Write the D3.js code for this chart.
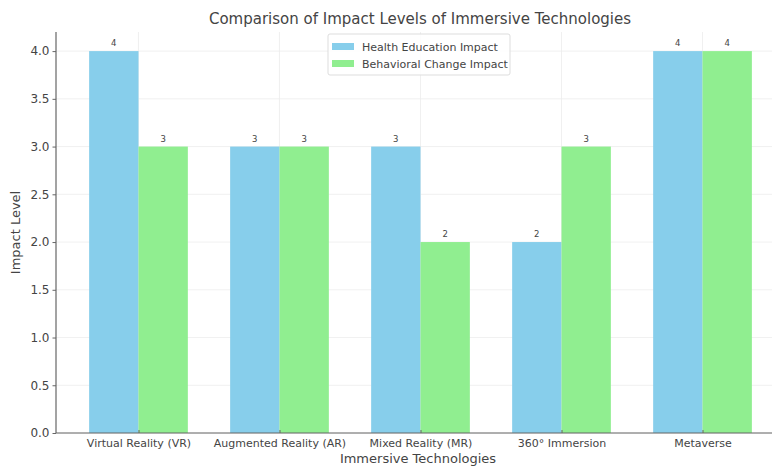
<!DOCTYPE html>
<html>
<head>
<meta charset="utf-8">
<script src="https://cdn.jsdelivr.net/npm/d3@7"></script>
<style>
  body { margin: 0; background: #fff; }
  svg { font-family: "DejaVu Sans", sans-serif; }
</style>
</head>
<body>
<svg id="chart" width="772" height="466"></svg>
<script>
const categories = ["Virtual Reality (VR)", "Augmented Reality (AR)", "Mixed Reality (MR)", "360° Immersion", "Metaverse"];
const healthImpact = [4, 3, 3, 2, 4];
const behaviorImpact = [3, 3, 2, 3, 4];
const seriesNames = ["Health Education Impact", "Behavioral Change Impact"];
const seriesColors = ["#87CEEB", "#90EE90"];
const yTicks = [0, 0.5, 1, 1.5, 2, 2.5, 3, 3.5, 4];

const svg = d3.select("#chart");
const margin = { top: 32, left: 56, bottom: 33 };
const height = 466 - margin.top - margin.bottom;

// index based x scale, like matplotlib with 5% margins
const barW = 0.35;
const x = d3.scaleLinear().domain([-0.585, 4.585]).range([margin.left, margin.left + 729]);
const y = d3.scaleLinear().domain([0, 4.2]).range([margin.top + height, margin.top]);

const g = svg.append("g");

// grid
g.selectAll(".hgrid").data(yTicks).enter().append("line")
  .attr("x1", x(-0.585)).attr("x2", 772)
  .attr("y1", d => y(d)).attr("y2", d => y(d))
  .attr("stroke", "#ececec").attr("stroke-width", 0.8);
g.selectAll(".vgrid").data(categories).enter().append("line")
  .attr("x1", (d, i) => x(i)).attr("x2", (d, i) => x(i))
  .attr("y1", y(0)).attr("y2", y(4.2))
  .attr("stroke", "#ececec").attr("stroke-width", 0.8);

// bars
const series = [healthImpact, behaviorImpact];
series.forEach((vals, s) => {
  const off = s === 0 ? -barW : 0;
  g.selectAll(".bar" + s).data(vals).enter().append("rect")
    .attr("x", (d, i) => x(i + off))
    .attr("width", x(barW) - x(0))
    .attr("y", d => y(d))
    .attr("height", d => y(0) - y(d))
    .attr("fill", seriesColors[s]);
  g.selectAll(".lbl" + s).data(vals).enter().append("text")
    .attr("x", (d, i) => x(i + off + barW / 2))
    .attr("y", d => y(d) - 5)
    .attr("text-anchor", "middle")
    .attr("font-size", 8.5)
    .attr("fill", "#444")
    .text(d => d);
});

// y axis
const yAxis = d3.axisLeft(y).tickValues(yTicks).tickFormat(d3.format(".1f")).tickSize(3.5).tickPadding(3);
const ya = svg.append("g").attr("transform", `translate(${margin.left},0)`).call(yAxis);
ya.select(".domain").attr("stroke", "#666").attr("stroke-width", 1.2).attr("d", `M0,${y(4.2)}V${y(0)}`);
ya.selectAll(".tick line").attr("stroke", "#666");
ya.selectAll("text").attr("font-size", 12).attr("fill", "#444").attr("font-family", "DejaVu Sans");

// x axis
const xAxis = d3.axisBottom(x).tickValues(d3.range(categories.length)).tickFormat(i => categories[i]).tickSize(-3).tickPadding(6);
const xa = svg.append("g").attr("transform", `translate(0,${y(0)})`).call(xAxis);
xa.select(".domain").attr("stroke", "#666").attr("stroke-width", 1.2).attr("d", `M${margin.left},0H772`);
xa.selectAll(".tick line").attr("stroke", "#666");
xa.selectAll("text").attr("font-size", 11).attr("fill", "#444").attr("font-family", "DejaVu Sans");

// titles
svg.append("text").attr("x", 420).attr("y", 24).attr("text-anchor", "middle")
  .attr("font-size", 15).attr("fill", "#444").text("Comparison of Impact Levels of Immersive Technologies");
svg.append("text").attr("x", 418).attr("y", 463).attr("text-anchor", "middle")
  .attr("font-size", 13).attr("fill", "#444").text("Immersive Technologies");
svg.append("text").attr("transform", `translate(20,${y(2.1)}) rotate(-90)`).attr("text-anchor", "middle")
  .attr("font-size", 13).attr("fill", "#444").text("Impact Level");

// legend
const lg = svg.append("g").attr("transform", "translate(328,34)");
lg.append("rect").attr("width", 182).attr("height", 41).attr("rx", 2)
  .attr("fill", "#fff").attr("fill-opacity", 0.85).attr("stroke", "#ddd");
seriesNames.forEach((n, i) => {
  lg.append("rect").attr("x", 4).attr("y", 9 + i * 17).attr("width", 22).attr("height", 7).attr("fill", seriesColors[i]);
  lg.append("text").attr("x", 34).attr("y", 16.5 + i * 17).attr("font-size", 11).attr("fill", "#444").text(n);
});
</script>
</body>
</html>
